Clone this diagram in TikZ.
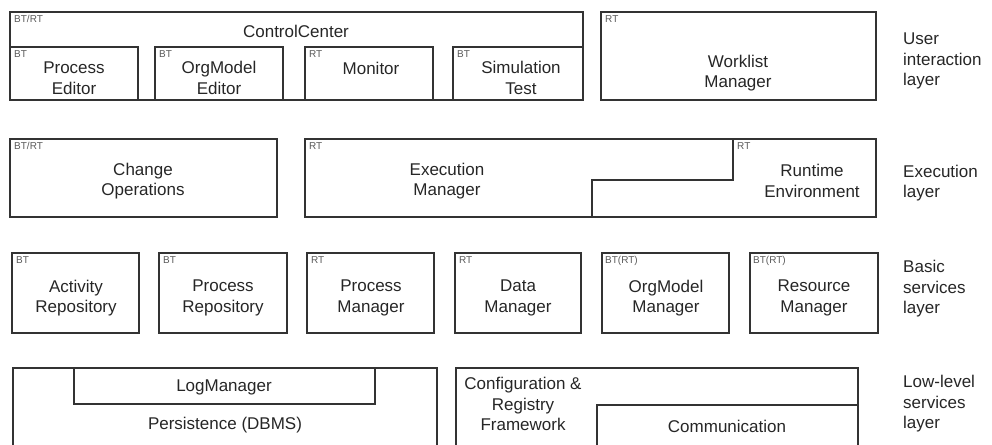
\documentclass[tikz,border=0pt]{standalone}
\usepackage{fontspec}
\setmainfont{Liberation Sans}
\begin{document}
\begin{tikzpicture}[x=1pt,y=-1pt,
  box/.style={draw=black!80, line width=1.4pt},
  lbl/.style={font=\fontsize{17}{20.5}\selectfont, text=black!85, align=center, inner sep=0pt},
  lay/.style={font=\fontsize{17}{20.5}\selectfont, text=black!85, align=left, inner sep=0pt, anchor=west},
  tag/.style={font=\fontsize{10}{12}\selectfont, text=black!65, anchor=north west, inner sep=0pt}]
\useasboundingbox (0,0) rectangle (992,444);
\clip (0,0) rectangle (992,444);
% ---- user interaction layer
\draw[box] (10,12) rectangle (583,100);
\draw[box] (10,47) rectangle (138,100);
\draw[box] (155,47) rectangle (283,100);
\draw[box] (305,47) rectangle (433,100);
\draw[box] (453,47) rectangle (583,100);
\draw[box] (601,12) rectangle (876,100);
\node[tag] (t1) at (14,15) {BT/RT};
\node[lbl] (cc) at (296,31) {ControlCenter};
\node[tag] (t2) at (14,50) {BT};
\node[lbl] (pe) at (74,78) {Process\\Editor};
\node[tag] (t3) at (159,50) {BT};
\node[lbl] (oe) at (219,78) {OrgModel\\Editor};
\node[tag] (t4) at (309,50) {RT};
\node[lbl] (mo) at (371,68) {Monitor};
\node[tag] (t5) at (457,50) {BT};
\node[lbl] (st) at (521,78) {Simulation\\Test};
\node[tag] (t6) at (605,15) {RT};
\node[lbl] (wm) at (738,73) {Worklist\\Manager};
\node[lay] (l1) at (903,61) {User\\interaction\\layer};
% ---- execution layer
\draw[box] (10,139) rectangle (277,217);
\draw[box] (305,139) rectangle (876,217);
\draw[box] (733,139) -- (733,180) -- (592,180) -- (592,217);
\node[tag] (t7) at (14,142) {BT/RT};
\node[lbl] (co) at (143,181) {Change\\Operations};
\node[tag] (t8) at (309,142) {RT};
\node[lbl] (em) at (447,181) {Execution\\Manager};
\node[tag] (t9) at (737,142) {RT};
\node[lbl] (re) at (812,181) {Runtime\\Environment};
\node[lay] (l2) at (903,183) {Execution\\layer};
% ---- basic services layer
\draw[box] (12,253) rectangle (139,333);
\draw[box] (159,253) rectangle (287,333);
\draw[box] (307,253) rectangle (434,333);
\draw[box] (455,253) rectangle (581,333);
\draw[box] (602,253) rectangle (729,333);
\draw[box] (750,253) rectangle (878,333);
\node[tag] (t10) at (16,256) {BT};
\node[lbl] (ar) at (76,298) {Activity\\Repository};
\node[tag] (t11) at (163,256) {BT};
\node[lbl] (pr) at (223,298) {Process\\Repository};
\node[tag] (t12) at (311,256) {RT};
\node[lbl] (pm) at (371,298) {Process\\Manager};
\node[tag] (t13) at (459,256) {RT};
\node[lbl] (dm) at (518,298) {Data\\Manager};
\node[tag] (t14) at (605,256) {BT(RT)};
\node[lbl] (om) at (666,298) {OrgModel\\Manager};
\node[tag] (t15) at (753,256) {BT(RT)};
\node[lbl] (rm) at (814,298) {Resource\\Manager};
\node[lay] (l3) at (903,289) {Basic\\services\\layer};
% ---- low-level services layer
\draw[box] (13,460) -- (13,368) -- (437,368) -- (437,460);
\draw[box] (74,368) rectangle (375,404);
\draw[box] (456,460) -- (456,368) -- (858,368) -- (858,460);
\draw[box] (597,460) -- (597,405) -- (858,405);
\node[lbl] (lm) at (224,387) {LogManager};
\node[lbl] (pd) at (225,425) {Persistence (DBMS)};
\node[lbl] (cr) at (523,404) {Configuration \&\\Registry\\Framework};
\node[lbl] (cm) at (727,426) {Communication};
\node[lay] (l4) at (903,404) {Low-level\\services\\layer};
\end{tikzpicture}
\end{document}
